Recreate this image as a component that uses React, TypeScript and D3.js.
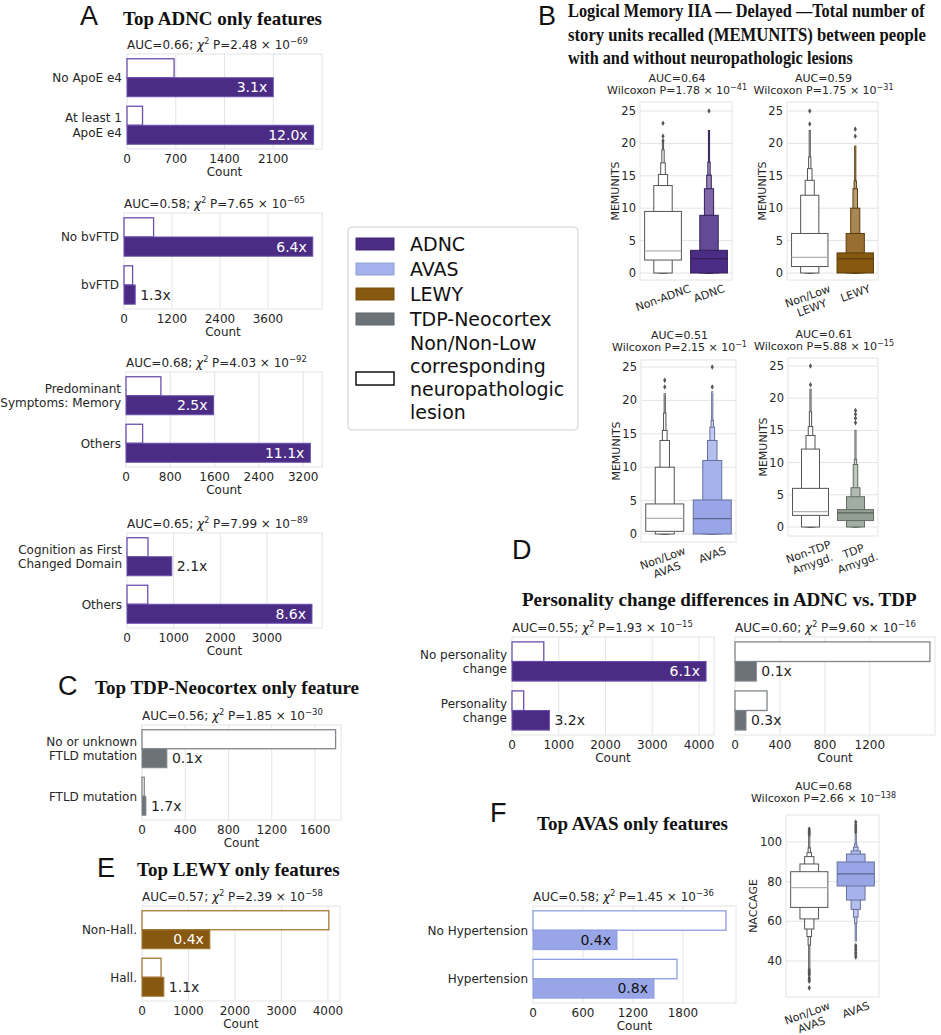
import React from "react";
import * as d3 from "d3";

const SANS = "'DejaVu Sans', Verdana, sans-serif";
const SERIF = "'Liberation Serif', 'Times New Roman', serif";
const LETTER = "'Liberation Sans', Arial, sans-serif";
const INK = "#262626";
const GRID = "#e4e4e4";

const ADNC_C = "#4b2c85";
const AVAS_C = "#98a6e8";
const LEWY_C = "#87580f";
const TDP_C = "#6b7379";
const TDP_BOX = "#93a093";

// ---------- A: top ADNC only features
const apoeCats = ["No ApoE e4", "At least 1\nApoE e4"];
const apoeNon = [676, 223];
const apoeLes = [2100, 2680];
const apoeRatio = ["3.1x", "12.0x"];
const apoeTicks = [0, 700, 1400, 2100];
const apoeStats = ["0.66", "2.48", "−69"];

const bvCats = ["No bvFTD", "bvFTD"];
const bvNon = [740, 215];
const bvLes = [4720, 280];
const bvRatio = ["6.4x", "1.3x"];
const bvTicks = [0, 1200, 2400, 3600];
const bvStats = ["0.58", "7.65", "−65"];

const memCats = ["Predominant\nSymptoms: Memory", "Others"];
const memNon = [630, 300];
const memLes = [1580, 3330];
const memRatio = ["2.5x", "11.1x"];
const memTicks = [0, 800, 1600, 2400, 3200];
const memStats = ["0.68", "4.03", "−92"];

const cogCats = ["Cognition as First\nChanged Domain", "Others"];
const cogNon = [450, 445];
const cogLes = [960, 3965];
const cogRatio = ["2.1x", "8.6x"];
const cogTicks = [0, 1000, 2000, 3000];
const cogStats = ["0.65", "7.99", "−89"];

// ---------- C: TDP-Neocortex
const ftldCats = ["No or unknown\nFTLD mutation", "FTLD mutation"];
const ftldNon = [1790, 21];
const ftldLes = [230, 36];
const ftldRatio = ["0.1x", "1.7x"];
const ftldTicks = [0, 400, 800, 1200, 1600];
const ftldStats = ["0.56", "1.85", "−30"];

// ---------- E: LEWY
const hallCats = ["Non-Hall.", "Hall."];
const hallNon = [4020, 410];
const hallLes = [1460, 470];
const hallRatio = ["0.4x", "1.1x"];
const hallTicks = [0, 1000, 2000, 3000, 4000];
const hallStats = ["0.57", "2.39", "−58"];

// ---------- D: personality change
const persCats = ["No personality\nchange", "Personality\nchange"];
const persAdncNon = [680, 250];
const persAdncLes = [4150, 800];
const persAdncRatio = ["6.1x", "3.2x"];
const persAdncTicks = [0, 1000, 2000, 3000, 4000];
const persAdncStats = ["0.55", "1.93", "−15"];
const persTdpNon = [1735, 285];
const persTdpLes = [190, 98];
const persTdpRatio = ["0.1x", "0.3x"];
const persTdpTicks = [0, 400, 800, 1200];
const persTdpStats = ["0.60", "9.60", "−16"];

// ---------- F: AVAS
const htnCats = ["No Hypertension", "Hypertension"];
const htnNon = [2316, 1728];
const htnLes = [1008, 1452];
const htnRatio = ["0.4x", "0.8x"];
const htnTicks = [0, 600, 1200, 1800];
const htnStats = ["0.58", "1.45", "−36"];

// ---------- B: MEMUNITS letter-value boxes [lo, hi], widest first
const memTicksY = [0, 5, 10, 15, 20, 25];
const adncBoxCats = ["Non-ADNC", "ADNC"];
const memNonAdncLv = [[2, 9.5], [0, 13.5], [0, 15.2], [0, 17], [0, 19], [0, 20.3]];
const memNonAdncMed = 3.4;
const memNonAdncOut = [20.4, 21.1, 23.1];
const memAdncLv = [[0, 3.5], [0, 8.9], [0, 13], [0, 15.1], [0, 17.1], [0, 22]];
const memAdncMed = 2.2;
const memAdncOut = [25];
const adncBoxStats = ["0.64", "1.78", "−41"];

const lewyBoxCats = ["Non/Low\nLEWY", "LEWY"];
const memNonLewyLv = [[1, 6.1], [0, 12], [0, 14.3], [0, 16.1], [0, 17.9], [0, 22]];
const memNonLewyMed = 2.4;
const memNonLewyOut = [23, 25];
const memLewyLv = [[0, 3.1], [0, 6.1], [0, 10], [0, 13], [0, 14.2], [0, 19.6]];
const memLewyMed = 2.2;
const memLewyOut = [21.1, 22.2];
const lewyBoxStats = ["0.59", "1.75", "−31"];

const avasBoxCats = ["Non/Low\nAVAS", "AVAS"];
const memNonAvasLv = [[0.4, 4.5], [0, 10], [0, 14], [0, 15.5], [0, 18.1], [0, 21]];
const memNonAvasMed = 2.35;
const memNonAvasOut = [22, 23];
const memAvasLv = [[0, 5.1], [0, 11], [0, 14], [0, 16], [0, 17], [0, 21.3]];
const memAvasMed = 2.3;
const memAvasOut = [22, 25];
const avasBoxStats = ["0.51", "2.15", "−1"];

const tdpBoxCats = ["Non-TDP\nAmygd.", "TDP\nAmygd."];
const memNonTdpLv = [[1.8, 6], [0, 12.1], [0, 14.2], [0, 15.6], [0, 17.9], [0, 21.4]];
const memNonTdpMed = 2.4;
const memNonTdpOut = [22.1, 25];
const memTdpLv = [[1, 2.7], [0, 4.7], [0, 6.1], [0, 9.7], [0, 10.5], [0, 15]];
const memTdpMed = 2.2;
const memTdpOut = [16.2, 16.9, 17.5, 18.1];
const tdpBoxStats = ["0.61", "5.88", "−15"];

// ---------- F: NACCAGE
const ageTicks = [40, 60, 80, 100];
const ageNonAvasLv = [[67, 85], [61.2, 88.9], [56.1, 92.6], [52.3, 94.6], [48, 97], [36, 103]];
const ageNonAvasMed = 77;
const ageNonAvasOut = [26.4, 29.8, 30.6, 31.5, 33, 33.8, 34.6, 35.4, 103.8, 104.6, 105.5, 106.5];
const ageAvasLv = [[77.8, 89.9], [70.7, 93.9], [66, 95.5], [62.1, 97.4], [59, 99], [50, 104]];
const ageAvasMed = 83.9;
const ageAvasOut = [42, 43.2, 44.3, 45.5, 46.6, 47.8, 105, 106.2, 107.4, 108.6, 110];
const ageStats = ["0.68", "2.66", "−138"];

// ---------- legend
const legendNames = ["ADNC", "AVAS", "LEWY", "TDP-Neocortex"];
const legendFills = [ADNC_C, "#a3b1ec", LEWY_C, TDP_C];
const legendLast = ["Non/Non-Low", "corresponding", "neuropathologic", "lesion"];

const titleB = [
  "Logical Memory IIA — Delayed —Total number of",
  "story units recalled (MEMUNITS) between people",
  "with and without neuropathologic lesions",
];
const titleBWidth = [358, 358, 285];

let ctx: CanvasRenderingContext2D | null = null;
function textWidth(s: string, size: number, font = '"DejaVu Sans"', weight = "") {
  if (!ctx && typeof document !== "undefined") ctx = document.createElement("canvas").getContext("2d");
  if (!ctx) return s.length * size * 0.62;
  ctx.font = `${weight} ${size}px ${font}`.trim();
  return ctx.measureText(s).width;
}

function ChiText({ x, y, stats, anchor = "start" }: any) {
  return (
    <text x={x} y={y} fontSize={12} fontFamily={SANS} fill={INK} textAnchor={anchor}>
      {`AUC=${stats[0]}; `}
      <tspan fontStyle="italic">χ</tspan>
      <tspan dy={-5} fontSize={8}>2</tspan>
      <tspan dy={5}>{` P=${stats[1]} × 10`}</tspan>
      <tspan dy={-5} fontSize={8.5}>{stats[2]}</tspan>
    </text>
  );
}

function WilText({ x, y, stats }: any) {
  return (
    <g fontSize={11} fontFamily={SANS} fill={INK} textAnchor="middle">
      <text x={x} y={y - 12}>{`AUC=${stats[0]}`}</text>
      <text x={x} y={y}>
        {`Wilcoxon P=${stats[1]} × 10`}
        <tspan dy={-4.5} fontSize={8}>{stats[2]}</tspan>
      </text>
    </g>
  );
}

function HBar({ left, top, width, height, cats, non, les, ratios, ticks, xMax, fill, edge, inkIn, stats, catLabels = true }: any) {
  const x = d3.scaleLinear().domain([0, xMax]).range([left, left + width]);
  const y = d3.scaleBand<string>().domain(cats).range([top, top + height]).paddingInner(0.2).paddingOuter(0.1);
  const half = y.bandwidth() / 2;
  const bottom = top + height;
  return (
    <g fontFamily={SANS}>
      <ChiText x={left} y={top - 5.5} stats={stats} />
      <rect x={left} y={top} width={width} height={height} fill="white" stroke={GRID} />
      {ticks.filter((t: number) => t > 0).map((t: number) => (
        <line key={t} x1={x(t)} x2={x(t)} y1={top} y2={bottom} stroke={GRID} />
      ))}
      {cats.map((c: string, i: number) => {
        const y0 = y(c)!;
        const wn = x(non[i]) - left;
        const wl = x(les[i]) - left;
        const inside = wl > 55;
        const lines = c.split("\n");
        return (
          <g key={c}>
            <rect x={left} y={y0} width={wn} height={half} fill="white" stroke={edge} strokeWidth={1.3} />
            <rect x={left} y={y0 + half} width={wl} height={half} fill={fill} stroke={edge} strokeWidth={1} />
            <text
              x={inside ? x(les[i]) - 6 : x(les[i]) + 5}
              y={y0 + 1.5 * half + 5}
              textAnchor={inside ? "end" : "start"}
              fill={inside ? inkIn : INK}
              fontSize={14}
            >
              {ratios[i]}
            </text>
            {catLabels &&
              lines.map((l, j) => (
                <text key={j} x={left - 5} y={y0 + half + (j - (lines.length - 1) / 2) * 14.5 + 4.3} textAnchor="end" fontSize={12} fill={INK}>
                  {l}
                </text>
              ))}
          </g>
        );
      })}
      {ticks.map((t: number) => (
        <text key={t} x={x(t)} y={bottom + 14} textAnchor="middle" fontSize={12} fill={INK}>
          {t}
        </text>
      ))}
      <text x={left + width / 2} y={bottom + 27} textAnchor="middle" fontSize={12} fill={INK}>
        Count
      </text>
    </g>
  );
}

function Boxen({ left, top, width, height, yDomain, yTicks, yLabel, labelGap, cats, groups, base, stats, statGap }: any) {
  const y = d3.scaleLinear().domain(yDomain).range([top + height, top]);
  const xb = d3.scaleBand<string>().domain(cats).range([left, left + width]);
  const bw = xb.bandwidth() * 0.8;
  const bottom = top + height;
  const diamond = d3.symbol().type(d3.symbolDiamond).size(9)()!;
  const rot = (20 * Math.PI) / 180;
  const fs = 11;
  return (
    <g fontFamily={SANS}>
      <WilText x={left + width / 2 - 9} y={top - statGap} stats={stats} />
      <rect x={left} y={top} width={width} height={height} fill="white" stroke={GRID} />
      {yTicks.map((t: number) => (
        <g key={t}>
          <line x1={left} x2={left + width} y1={y(t)} y2={y(t)} stroke={GRID} />
          <text x={left - 4} y={y(t) + 4} textAnchor="end" fontSize={fs + 0.5} fill={INK}>
            {t}
          </text>
        </g>
      ))}
      <text transform={`translate(${left - labelGap},${top + height / 2}) rotate(-90)`} textAnchor="middle" dy="0.36em" fontSize={fs} fill={INK}>
        {yLabel}
      </text>
      {cats.map((c: string, gi: number) => {
        const g = groups[gi];
        const col = gi === 0 ? null : base;
        const cx = xb(c)! + xb.bandwidth() / 2;
        const stroke = col ? d3.color(col)!.darker(1.1).formatHex() : "#555";
        const lv = g.levels.map((r: number[], k: number) => ({ r, k })).reverse();
        const lines = c.split("\n");
        const tw = d3.max(lines, (l) => textWidth(l, fs))!;
        const th = lines.length * 12.5;
        const cy = bottom + 2 + (tw * Math.sin(rot) + th * Math.cos(rot)) / 2;
        return (
          <g key={c}>
            {lv.map(({ r, k }: any) => {
              const w = bw * Math.pow(0.5, k);
              const f = col ? d3.interpolateRgb(col, "#ffffff")(k * 0.14) : "#ffffff";
              return <rect key={k} x={cx - w / 2} y={y(r[1])} width={w} height={y(r[0]) - y(r[1])} fill={f} stroke={stroke} strokeWidth={1} />;
            })}
            <line x1={cx - bw / 2} x2={cx + bw / 2} y1={y(g.median)} y2={y(g.median)} stroke={col ? d3.color(col)!.darker(1.4).formatHex() : "#b0b0b0"} strokeWidth={1.2} />
            {g.outliers.map((v: number, i: number) => (
              <path key={i} d={diamond} transform={`translate(${cx},${y(v)})`} fill="#555" />
            ))}
            <g transform={`translate(${cx},${cy}) rotate(-20)`}>
              {lines.map((l, j) => (
                <text key={j} x={0} y={(j - (lines.length - 1) / 2) * 12.5} dy="0.36em" textAnchor="middle" fontSize={fs} fill={INK}>
                  {l}
                </text>
              ))}
            </g>
          </g>
        );
      })}
    </g>
  );
}

function Title({ x, y, children }: any) {
  return (
    <text x={x} y={y} fontFamily={SERIF} fontWeight="bold" fontSize={19} fill="#111">
      {children}
    </text>
  );
}

// condensed title line: squeezed horizontally to the width the reference shows
function SqueezedTitle({ x, y, len, size, children }: any) {
  const natural = textWidth(children, size, '"Liberation Serif"', "bold");
  const k = natural > 0 ? Math.min(1, len / natural) : 1;
  return (
    <text transform={`translate(${x},${y}) scale(${k},1)`} fontFamily={SERIF} fontWeight="bold" fontSize={size} fill="#111">
      {children}
    </text>
  );
}

function Letter({ x, y, children }: any) {
  return (
    <text x={x} y={y} fontFamily={LETTER} fontSize={27} fill="#111">
      {children}
    </text>
  );
}

function Legend() {
  return (
    <g fontFamily={SANS} fontSize={19} fill="#111">
      <rect x={348} y={227} width={230} height={203} rx={4} fill="white" stroke="#cfcfcf" />
      {legendNames.map((n, i) => (
        <g key={n}>
          <rect x={356} y={238 + i * 25} width={38} height={12} fill={legendFills[i]} stroke={d3.color(legendFills[i])!.darker(0.3).formatHex()} />
          <text x={410} y={244 + i * 25 + 6.8}>{n}</text>
        </g>
      ))}
      <rect x={356} y={372} width={38} height={13} fill="white" stroke="#111" strokeWidth={1.5} />
      {legendLast.map((l, i) => (
        <text key={l} x={410} y={343 + i * 23 + 6.8}>
          {l}
        </text>
      ))}
    </g>
  );
}

export default function App() {
  const memDom = (t: number, b: number, z: number, f: number) => [-(b - z) / ((z - f) / 25), 25 + (f - t) / ((z - f) / 25)];
  return (
    <svg width={941} height={1035} style={{ position: "absolute", left: 0, top: 0, background: "white" }}>
      {/* A */}
      <Letter x={80} y={25}>A</Letter>
      <Title x={123} y={25}>Top ADNC only features</Title>
      <HBar left={127} top={54} width={195} height={95} cats={apoeCats} non={apoeNon} les={apoeLes} ratios={apoeRatio} ticks={apoeTicks} xMax={2800} fill={ADNC_C} edge="#6a4fae" inkIn="#fff" stats={apoeStats} />
      <HBar left={124} top={213} width={198} height={96} cats={bvCats} non={bvNon} les={bvLes} ratios={bvRatio} ticks={bvTicks} xMax={4950} fill={ADNC_C} edge="#6a4fae" inkIn="#fff" stats={bvStats} />
      <HBar left={126} top={372} width={196} height={95} cats={memCats} non={memNon} les={memLes} ratios={memRatio} ticks={memTicks} xMax={3540} fill={ADNC_C} edge="#6a4fae" inkIn="#fff" stats={memStats} />
      <HBar left={127} top={533} width={195} height={95} cats={cogCats} non={cogNon} les={cogLes} ratios={cogRatio} ticks={cogTicks} xMax={4180} fill={ADNC_C} edge="#6a4fae" inkIn="#fff" stats={cogStats} />

      {/* C */}
      <Letter x={58} y={695}>C</Letter>
      <Title x={95} y={694}>Top TDP-Neocortex only feature</Title>
      <HBar left={142} top={725} width={199} height={95} cats={ftldCats} non={ftldNon} les={ftldLes} ratios={ftldRatio} ticks={ftldTicks} xMax={1840} fill={TDP_C} edge="#80868b" inkIn="#fff" stats={ftldStats} />

      {/* E */}
      <Letter x={97} y={877}>E</Letter>
      <Title x={137} y={876}>Top LEWY only features</Title>
      <HBar left={142} top={906} width={198} height={95} cats={hallCats} non={hallNon} les={hallLes} ratios={hallRatio} ticks={hallTicks} xMax={4260} fill={LEWY_C} edge="#a37835" inkIn="#fff" stats={hallStats} />

      <Legend />

      {/* B */}
      <Letter x={538} y={25}>B</Letter>
      {titleB.map((l, i) => (
        <SqueezedTitle key={i} x={568} y={17 + i * 23.5} len={titleBWidth[i]} size={18.5}>{l}</SqueezedTitle>
      ))}
      <Boxen left={640} top={102} width={92} height={178} yDomain={memDom(102, 280, 273, 111)} yTicks={memTicksY} yLabel="MEMUNITS" labelGap={25} cats={adncBoxCats}
        groups={[{ levels: memNonAdncLv, median: memNonAdncMed, outliers: memNonAdncOut }, { levels: memAdncLv, median: memAdncMed, outliers: memAdncOut }]} base={ADNC_C} stats={adncBoxStats} statGap={8} />
      <Boxen left={787} top={102} width={91} height={178} yDomain={memDom(102, 280, 273, 111)} yTicks={memTicksY} yLabel="MEMUNITS" labelGap={25} cats={lewyBoxCats}
        groups={[{ levels: memNonLewyLv, median: memNonLewyMed, outliers: memNonLewyOut }, { levels: memLewyLv, median: memLewyMed, outliers: memLewyOut }]} base={LEWY_C} stats={lewyBoxStats} statGap={8} />
      <Boxen left={641} top={360} width={95} height={182} yDomain={memDom(360, 542, 534, 367)} yTicks={memTicksY} yLabel="MEMUNITS" labelGap={25} cats={avasBoxCats}
        groups={[{ levels: memNonAvasLv, median: memNonAvasMed, outliers: memNonAvasOut }, { levels: memAvasLv, median: memAvasMed, outliers: memAvasOut }]} base={AVAS_C} stats={avasBoxStats} statGap={9} />
      <Boxen left={788} top={358} width={90} height={178} yDomain={memDom(358, 536, 527, 366)} yTicks={memTicksY} yLabel="MEMUNITS" labelGap={25} cats={tdpBoxCats}
        groups={[{ levels: memNonTdpLv, median: memNonTdpMed, outliers: memNonTdpOut }, { levels: memTdpLv, median: memTdpMed, outliers: memTdpOut }]} base={TDP_BOX} stats={tdpBoxStats} statGap={8} />

      {/* D */}
      <Letter x={512} y={559}>D</Letter>
      <Title x={522} y={606}>Personality change differences in ADNC vs. TDP</Title>
      <HBar left={512} top={637} width={202} height={98} cats={persCats} non={persAdncNon} les={persAdncLes} ratios={persAdncRatio} ticks={persAdncTicks} xMax={4320} fill={ADNC_C} edge="#6a4fae" inkIn="#fff" stats={persAdncStats} />
      <HBar left={735} top={637} width={200} height={98} cats={persCats} non={persTdpNon} les={persTdpLes} ratios={persTdpRatio} ticks={persTdpTicks} xMax={1780} fill={TDP_C} edge="#80868b" inkIn="#fff" stats={persTdpStats} catLabels={false} />

      {/* F */}
      <Letter x={490} y={822}>F</Letter>
      <Title x={537} y={830}>Top AVAS only features</Title>
      <HBar left={533} top={906} width={203} height={97} cats={htnCats} non={htnNon} les={htnLes} ratios={htnRatio} ticks={htnTicks} xMax={2436} fill={AVAS_C} edge="#8d9de4" inkIn="#111" stats={htnStats} />
      <Boxen left={786} top={815} width={93} height={182} yDomain={[21.8, 113.6]} yTicks={ageTicks} yLabel="NACCAGE" labelGap={33} cats={avasBoxCats}
        groups={[{ levels: ageNonAvasLv, median: ageNonAvasMed, outliers: ageNonAvasOut }, { levels: ageAvasLv, median: ageAvasMed, outliers: ageAvasOut }]} base={AVAS_C} stats={ageStats} statGap={13} />
    </svg>
  );
}
